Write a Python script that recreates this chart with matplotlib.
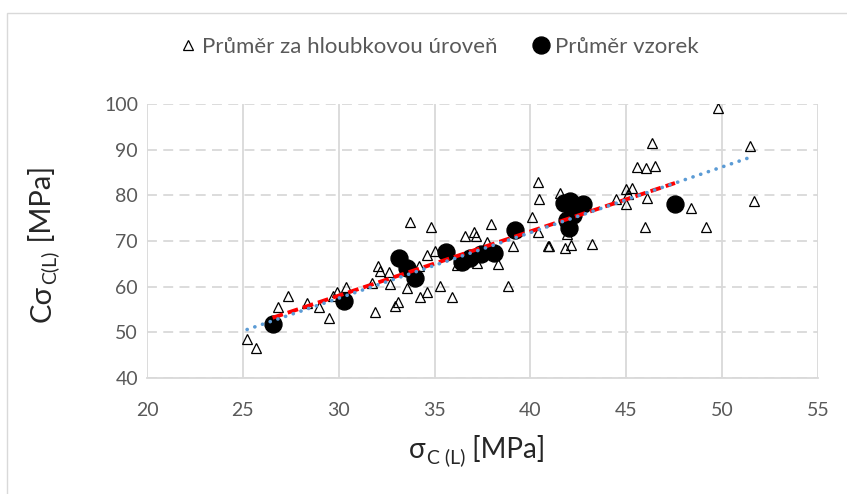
import matplotlib
matplotlib.use("Agg")
import matplotlib.pyplot as plt
import numpy as np
from matplotlib.patches import Rectangle
from matplotlib.lines import Line2D

FONT = ['Lato', 'Noto Sans', 'DejaVu Sans']
plt.rcParams['font.family'] = FONT

# Averages per depth level (triangles)
tri_x = [25.22, 25.69, 26.82, 27.37, 28.36, 28.99, 29.51, 29.72, 29.89, 30.40,
         31.72, 31.88, 32.05, 32.15, 32.62, 32.65, 32.92, 33.08, 33.54, 33.72,
         34.18, 34.22, 34.58, 34.62, 34.80, 35.00, 35.30, 35.90, 36.15, 36.60,
         37.07, 37.18, 37.22, 37.75, 37.92, 38.30, 38.82, 39.08, 40.10, 40.38,
         40.47, 40.38, 40.90, 40.95, 41.55, 41.78, 41.90, 42.10, 43.20, 44.46,
         45.00, 45.28, 45.10, 45.00, 46.08, 45.98, 45.58, 46.03, 46.50, 46.36,
         48.36, 49.14, 49.77, 51.46, 51.68]
tri_y = [48.5, 46.5, 55.6, 58.0, 56.5, 55.6, 53.2, 58.0, 58.8, 59.9,
         60.8, 54.4, 64.6, 63.5, 63.3, 60.6, 55.8, 56.6, 59.6, 74.1,
         64.6, 57.8, 58.9, 67.0, 73.1, 67.9, 60.1, 57.8, 64.7, 71.2,
         71.9, 71.0, 65.1, 69.8, 73.7, 64.9, 60.2, 68.8, 75.2, 83.0,
         79.3, 72.0, 69.0, 68.9, 80.6, 68.4, 71.5, 69.1, 69.4, 79.2,
         81.4, 81.7, 80.4, 78.2, 79.5, 73.1, 86.3, 85.9, 86.5, 91.4,
         77.2, 73.0, 99.2, 90.8, 78.7]

# Sample averages (filled circles)
dot_x = [26.55, 30.30, 33.16, 33.55, 34.00, 35.62, 36.45, 36.87, 37.40, 38.10,
         39.18, 41.77, 42.07, 42.76, 41.90, 42.20, 42.00, 47.54]
dot_y = [51.9, 56.9, 66.3, 64.0, 62.0, 67.7, 65.5, 66.2, 67.2, 67.3,
         72.3, 78.3, 78.8, 78.0, 74.6, 75.7, 72.8, 78.0]

x_ticks = [20, 25, 30, 35, 40, 45, 50, 55]
y_ticks = [40, 50, 60, 70, 80, 90, 100]
legend_labels = ["Průměr za hloubkovou úroveň", "Průměr vzorek"]

W, H = 847, 494
fig = plt.figure(figsize=(W / 100, H / 100), dpi=100)

# chart-area border
fig.patches.append(Rectangle((7 / W, -0.1), 1.2, (H - 13) / H + 0.1,
                             transform=fig.transFigure, fill=False,
                             edgecolor='#d9d9d9', lw=1.0, clip_on=False))

ax = fig.add_axes([147 / W, 1 - 378 / H, (818 - 147) / W, (378 - 104) / H])
ax.set_xlim(x_ticks[0], x_ticks[-1])
ax.set_ylim(y_ticks[0], y_ticks[-1])
ax.set_xticks(x_ticks)
ax.set_yticks(y_ticks)
ax.tick_params(length=0, labelsize=14, labelcolor='#595959')
ax.tick_params(axis='x', pad=17)
ax.tick_params(axis='y', pad=6.5)

for s in ['top', 'right', 'left']:
    ax.spines[s].set_visible(False)
ax.spines['bottom'].set_color('#d9d9d9')
ax.spines['bottom'].set_linewidth(1.3)

ax.set_axisbelow(True)
ax.grid(axis='x', color='#d9d9d9', lw=1.3, ls='-')
ax.grid(axis='y', color='#d9d9d9', lw=1.3, ls=(0, (5.5, 3.5)))

ax.plot(tri_x, tri_y, ls='none', marker='^', ms=7.6, mfc='none',
        mec='black', mew=0.9, zorder=3)
ax.plot(dot_x, dot_y, ls='none', marker='o', ms=12.2, color='black',
        mec='black', zorder=4)

# linear trends
pd_ = np.polyfit(dot_x, dot_y, 1)
xd = np.array([min(dot_x), max(dot_x)])
ax.plot(xd, np.polyval(pd_, xd), color='#ff0000', lw=2.8,
        ls=(0, (2.8, 1.3)), zorder=5)

pt_ = np.polyfit(tri_x, tri_y, 1)
xt = np.array([min(tri_x), max(tri_x)])
ax.plot(xt, np.polyval(pt_, xt), color='#5b9bd5', lw=2.6,
        ls=(0, (0.05, 2.2)), dash_capstyle='round', zorder=6)

handles = [Line2D([], [], ls='none', marker='^', ms=7.6, mfc='none',
                  mec='black', mew=0.9),
           Line2D([], [], ls='none', marker='o', ms=12.2, color='black')]
fig.legend(handles, legend_labels, loc='center',
           bbox_to_anchor=(440 / W, 1 - 47 / H), ncol=2, frameon=False,
           fontsize=16, labelcolor='#595959', handlelength=0.6,
           handletextpad=0.3, columnspacing=1.7)

LBL = '#262626'

# x-axis label: sigma with subscript
t1 = fig.text(409 / W, 1 - 458 / H, "σ", fontsize=20, color=LBL,
              ha='left', va='baseline')
a2 = ax.annotate("C (L)", xy=(1, 0), xycoords=t1, xytext=(1, -2),
                 textcoords='offset points', fontsize=14, color=LBL,
                 ha='left', va='bottom', annotation_clip=False)
a3 = ax.annotate(" [MPa]", xy=(1, 0), xycoords=(a2, t1), xytext=(0, 0),
                 textcoords='offset points', fontsize=20, color=LBL,
                 ha='left', va='bottom', annotation_clip=False)

# y-axis label: C sigma with subscript
y1 = fig.text(56 / W, 1 - 322 / H, "Cσ", fontsize=21, color=LBL,
              rotation=90, ha='right', va='bottom')
b2 = ax.annotate("C(L)", xy=(1, 1), xycoords=y1, xytext=(2, 1),
                 textcoords='offset points', fontsize=14, color=LBL,
                 rotation=90, ha='right', va='bottom', annotation_clip=False)
b3 = ax.annotate(" [MPa]", xy=(1, 1), xycoords=(y1, b2), xytext=(0, 0),
                 textcoords='offset points', fontsize=21, color=LBL,
                 rotation=90, ha='right', va='bottom', annotation_clip=False)

fig.savefig("out.png", dpi=100)
